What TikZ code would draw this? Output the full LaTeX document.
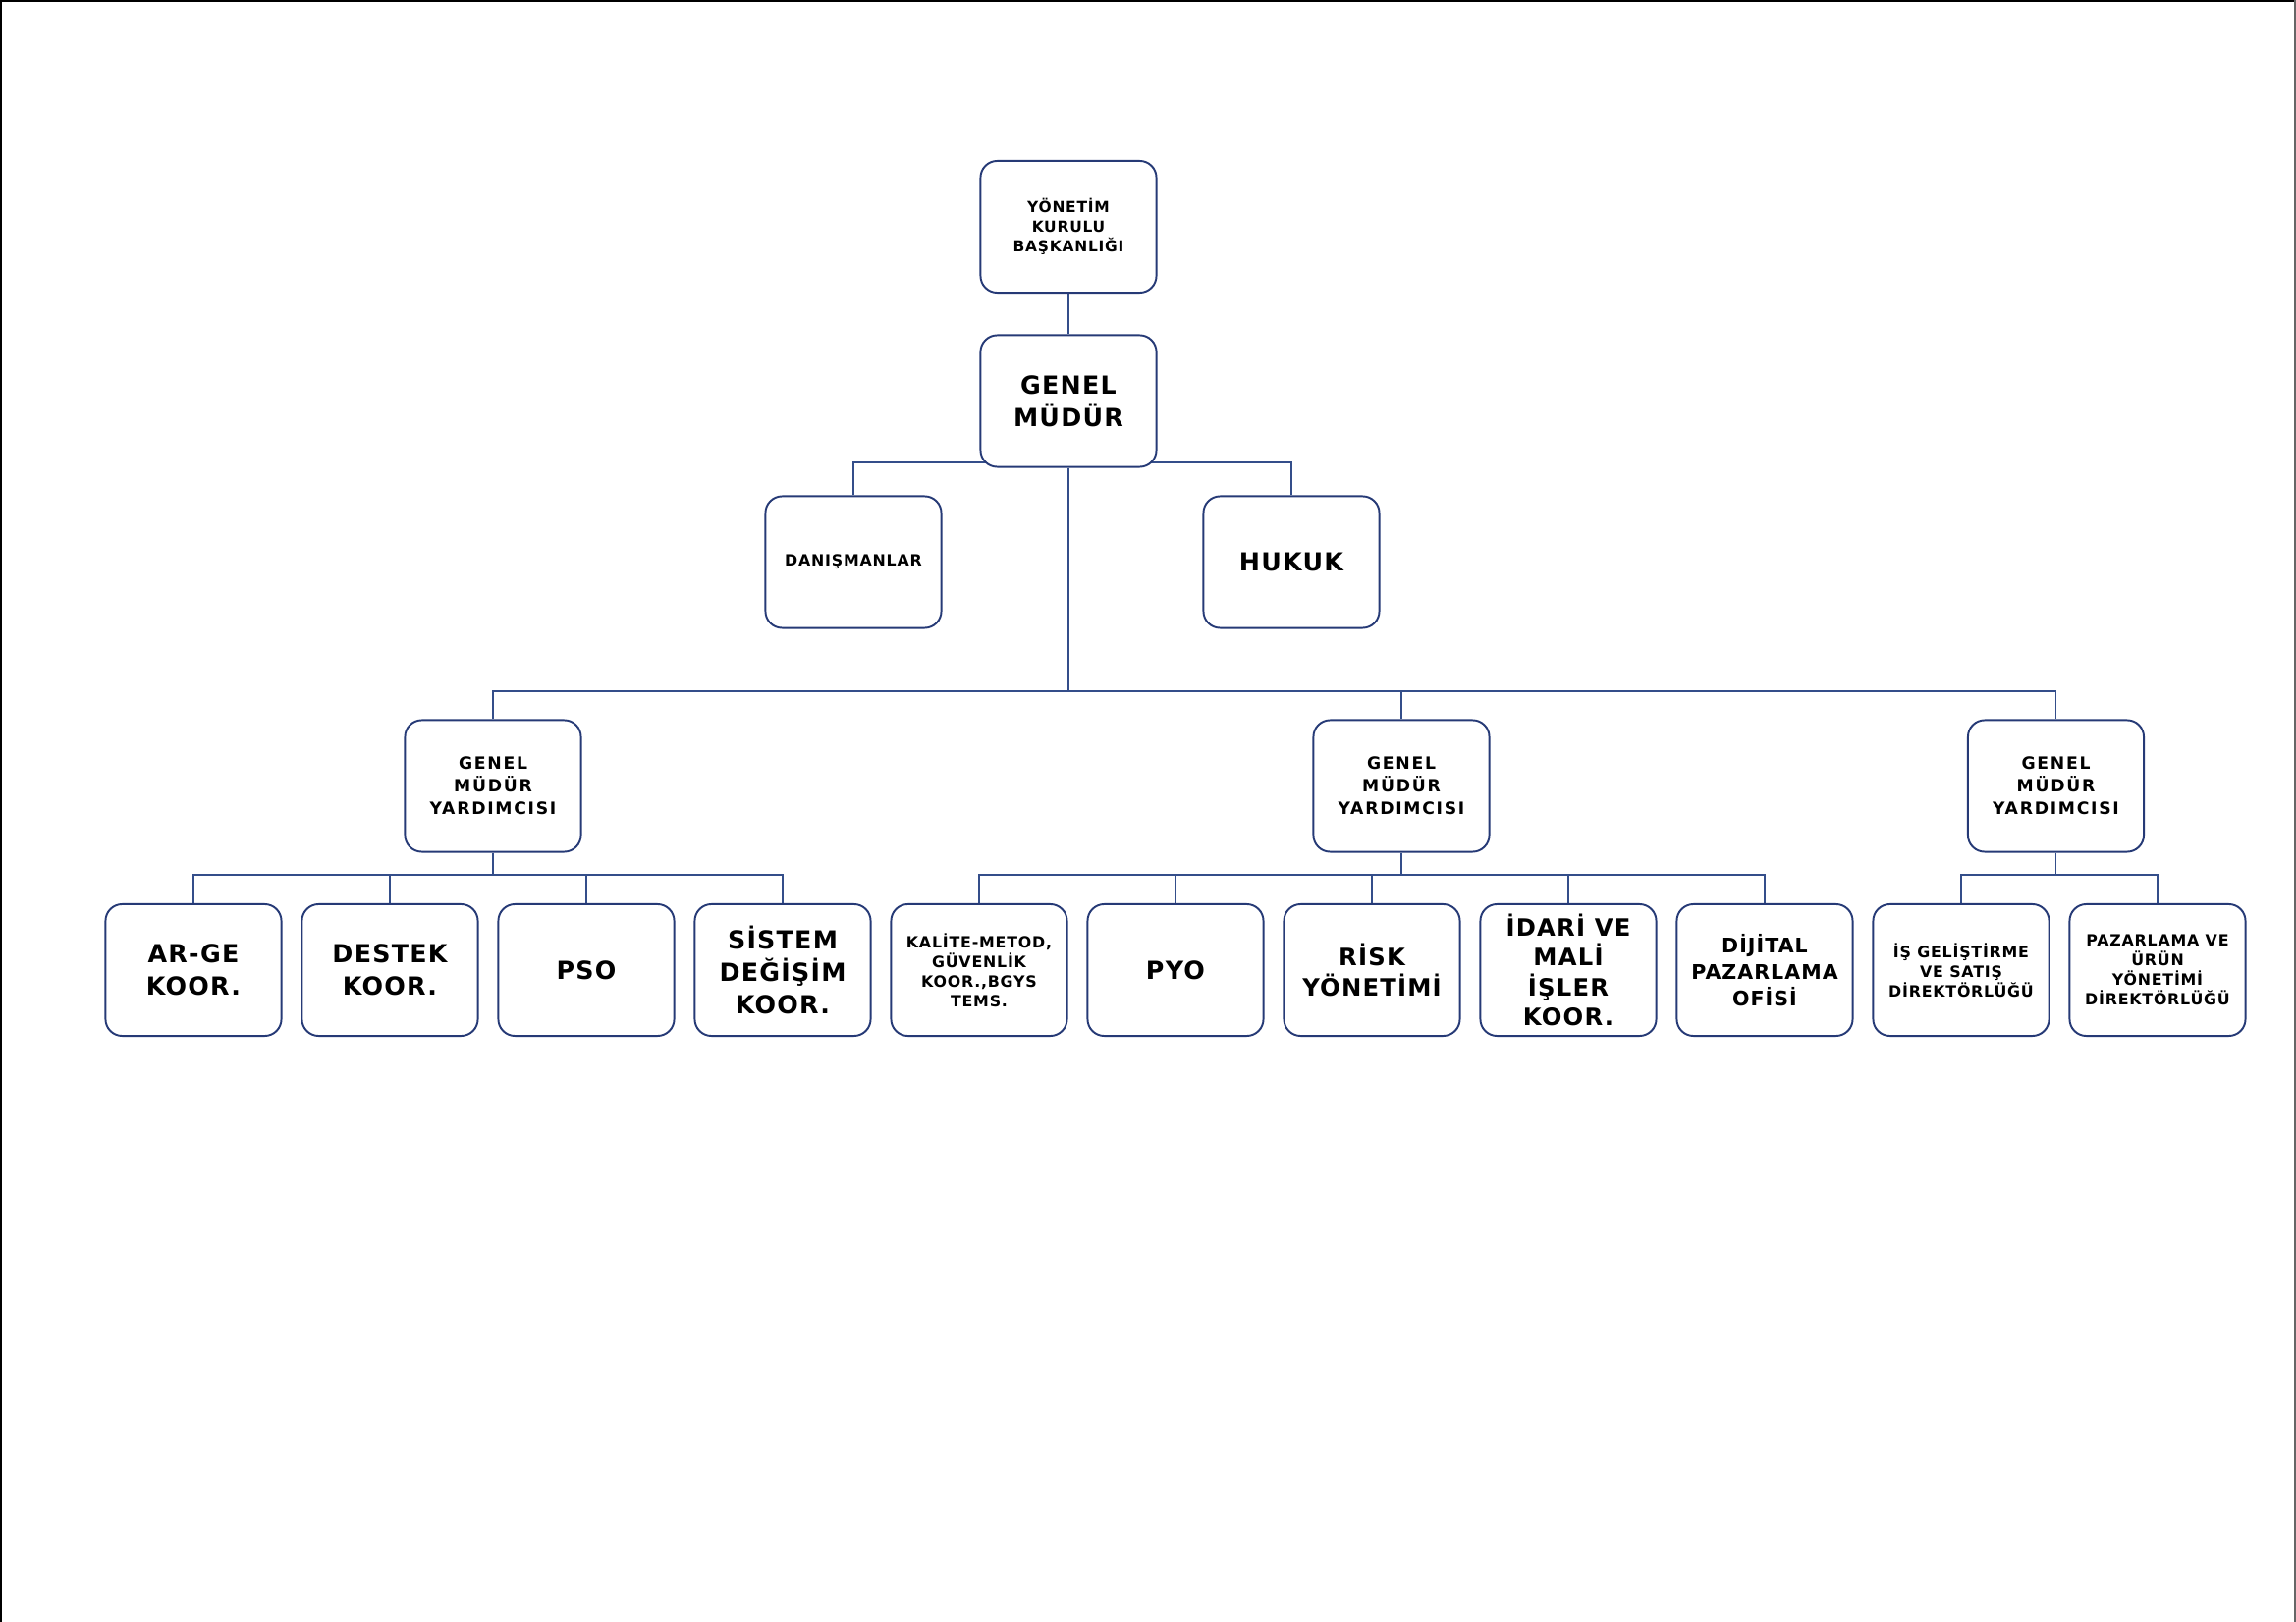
\documentclass[tikz,border=0pt]{standalone}
\usepackage{fontspec}
\setmainfont{DejaVu Sans}[LetterSpace=5]
\usetikzlibrary{backgrounds}
\definecolor{boxc}{RGB}{38,58,118}
\definecolor{linec}{RGB}{52,78,138}
\tikzset{
  box/.style={draw=boxc, line width=0.55pt, fill=white, rounded corners=0.17cm,
    minimum width=1.79cm, minimum height=1.34cm, inner sep=0pt, align=center, text=black},
  conn/.style={draw=linec, line width=0.55pt},
  fbig/.style={font={\bfseries\fontsize{7.2}{9.4}\selectfont}},
  fykb/.style={font={\bfseries\fontsize{4.4}{5.7}\selectfont}},
  fgmy/.style={font={\bfseries\addfontfeature{LetterSpace=10}\fontsize{4.9}{6.5}\selectfont}},
  fsmall/.style={font={\bfseries\fontsize{4.5}{5.7}\selectfont}},
  fmid/.style={font={\bfseries\fontsize{5.85}{7.7}\selectfont}},
  frisk/.style={font={\bfseries\fontsize{6.9}{8.6}\selectfont}},
}
\begin{document}
\begin{tikzpicture}[x=0.01cm,y=-0.01cm]
\useasboundingbox (0,0) rectangle (2338,1652);
\draw[black, line width=1.2pt] (0,1652) -- (0,0) -- (2338,0);
\draw[gray!80!black, line width=1.2pt] (2338,0) -- (2338,1652);

% top
\node[box,fykb] (ykb) at (1088,231) {YÖNETİM\\KURULU\\BAŞKANLIĞI};
\node[box,fbig] (gm) at (1088,408.5) {GENEL\\MÜDÜR};
\node[box,fsmall] (dan) at (869,572.5) {DANIŞMANLAR};
\node[box,fbig] (huk) at (1315,572.5) {HUKUK};

% deputies
\node[box,fgmy] (gmy1) at (502,800.5) {GENEL\\MÜDÜR\\YARDIMCISI};
\node[box,fgmy] (gmy2) at (1427,800.5) {GENEL\\MÜDÜR\\YARDIMCISI};
\node[box,fgmy] (gmy3) at (2093.5,800.5) {GENEL\\MÜDÜR\\YARDIMCISI};

% bottom row
\node[box,fbig] (c1) at (197,988) {AR-GE\\KOOR.};
\node[box,fbig] (c2) at (397,988) {DESTEK\\KOOR.};
\node[box,fbig] (c3) at (597,988) {PSO};
\node[box,fbig] (c4) at (797,988) {SİSTEM\\DEĞİŞİM\\KOOR.};
\node[box,fsmall] (c5) at (997,988) {KALİTE-METOD,\\GÜVENLİK\\KOOR.,BGYS\\TEMS.};
\node[box,fbig] (c6) at (1197,988) {PYO};
\node[box,frisk] (c7) at (1397,988) {RİSK\\YÖNETİMİ};
\node[box,frisk] (c8) at (1597,988) {İDARİ VE\\MALİ\\İŞLER\\KOOR.};
\node[box,fmid] (c9) at (1797,988) {DİJİTAL\\PAZARLAMA\\OFİSİ};
\node[box,fsmall] (c10) at (1997,988) {İŞ GELİŞTİRME\\VE SATIŞ\\DİREKTÖRLÜĞÜ};
\node[box,fsmall] (c11) at (2197,988) {PAZARLAMA VE\\ÜRÜN\\YÖNETİMİ\\DİREKTÖRLÜĞÜ};

\coordinate (gmside) at (1088,471);
\coordinate (mainbus) at (1088,704);
\coordinate (b1) at (502,891);
\coordinate (b2) at (1427,891);
\coordinate (b3) at (2093.5,891);

\begin{scope}[on background layer]
\draw[conn] (ykb.south) -- (gm.north);
\draw[conn] (dan.north) |- (gmside) -| (huk.north);
\draw[conn] (gm.south) -- (mainbus);
\draw[conn] (gmy1.north) |- (mainbus) -| (gmy3.north);
\draw[conn] (gmy2.north) |- (mainbus);
% group 1
\draw[conn] (gmy1.south) -- (b1);
\draw[conn] (c1.north) |- (b1) -| (c4.north);
\draw[conn] (c2.north) |- (b1);
\draw[conn] (c3.north) |- (b1);
% group 2
\draw[conn] (gmy2.south) -- (b2);
\draw[conn] (c5.north) |- (b2) -| (c9.north);
\draw[conn] (c6.north) |- (b2);
\draw[conn] (c7.north) |- (b2);
\draw[conn] (c8.north) |- (b2);
% group 3
\draw[conn] (gmy3.south) -- (b3);
\draw[conn] (c10.north) |- (b3) -| (c11.north);
\end{scope}
\end{tikzpicture}
\end{document}
